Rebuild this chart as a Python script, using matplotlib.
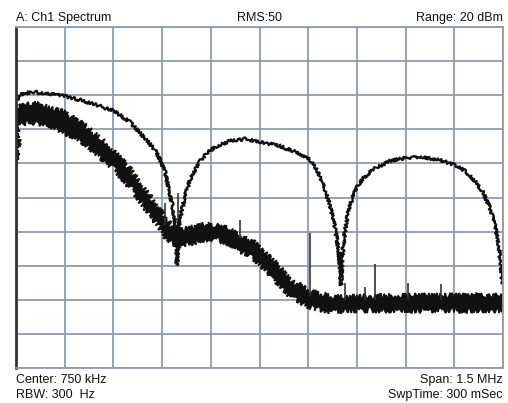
import numpy as np
import matplotlib
matplotlib.use("Agg")
import matplotlib.pyplot as plt

# upper trace (kHz, dBm)
upper_f = [3, 12, 28, 52, 89, 148, 197, 259, 302, 351, 397, 428, 444, 459, 468, 480,
           490, 496, 502, 511, 524, 536, 551, 567, 588, 613, 659, 705, 752, 813, 875,
           906, 930, 952, 967, 979, 989, 995, 1001, 1007, 1013, 1023, 1035, 1050, 1069,
           1106, 1152, 1198, 1244, 1306, 1352, 1383, 1414, 1438, 1460, 1475, 1488, 1497, 1500]
upper_db = [-1.4, 0.1, 0.6, 0.9, 0.6, -0.2, -1.4, -3.2, -4.6, -7.9, -12.6, -16.1, -19.0,
            -22.5, -26.3, -31.6, -37.2, -49.8, -38.1, -33.7, -28.4, -24.9, -21.9, -19.3,
            -17.0, -15.2, -13.4, -12.8, -13.7, -14.9, -17.2, -19.0, -22.5, -27.8, -32.2,
            -37.2, -42.5, -46.9, -55.7, -45.4, -40.1, -34.3, -30.2, -26.9, -24.3, -21.4,
            -19.3, -18.4, -18.1, -19.0, -20.5, -22.2, -25.2, -28.4, -33.1, -38.1, -44.8,
            -54.2, -55.5]

# lower trace envelope (kHz, top dBm, bottom dBm)
lower_f = [0, 3, 9, 28, 59, 105, 148, 197, 259, 302, 351, 397, 444, 474, 505, 536, 567,
           598, 628, 659, 690, 733, 782, 844, 906, 967, 1060, 1183, 1337, 1500]
lower_top = [-3.5, -4.3, -3.8, -2.6, -2.6, -3.8, -5.2, -7.9, -12.6, -16.7, -21.9, -27.8,
             -33.7, -38.1, -39.2, -39.0, -38.4, -37.8, -38.7, -39.5, -41.3, -43.4, -47.8,
             -54.2, -57.7, -59.2, -59.2, -58.9, -58.9, -58.9]
lower_bot = [-21.1, -18.0, -9.6, -7.9, -7.9, -9.0, -10.8, -13.1, -18.1, -21.4, -26.9,
             -32.8, -39.0, -43.1, -43.9, -43.4, -42.5, -41.9, -42.5, -43.6, -45.4, -47.8,
             -52.2, -58.9, -62.1, -63.3, -63.0, -63.0, -63.0, -63.0]

# spurs on the lower trace
spur_f = [459, 499, 690, 906, 1013, 1075, 1106, 1207, 1309]
spur_top = [-31.6, -28.7, -36.6, -40.4, -55.1, -56.3, -49.5, -55.1, -55.4]
spur_base = [-38.0, -40.0, -42.0, -59.0, -60.0, -60.0, -60.0, -60.0, -60.0]

grid_col = "#909cac"

fig = plt.figure(figsize=(5.08, 4.03), dpi=100)
ax = fig.add_axes([16 / 508, 35 / 403, 487 / 508, 341 / 403])
ax.set_xlim(0, 1500)
ax.set_ylim(-80, 20)
ax.set_xticks(np.linspace(0, 1500, 11))
ax.set_yticks(np.linspace(-80, 20, 11))
ax.grid(True, color=grid_col, lw=1.3)
ax.tick_params(length=0, labelbottom=False, labelleft=False)
for s in ax.spines.values():
    s.set_color(grid_col)
    s.set_linewidth(1.3)
ax.spines["left"].set_color("#333333")
ax.spines["left"].set_linewidth(2)
ax.set_axisbelow(True)

band = ax.fill(np.concatenate([lower_f, lower_f[::-1]]),
               np.concatenate([lower_top, lower_bot[::-1]]),
               color="#111111", lw=1.2)[0]
band.set_sketch_params(scale=3, length=3, randomness=3)

ax.vlines(spur_f, spur_base, spur_top, color="#333333", lw=1.2)

line, = ax.plot(upper_f, upper_db, color="#111111", lw=1.6)
line.set_sketch_params(scale=1.5, length=2, randomness=3)

font = dict(family="Liberation Sans", fontsize=9, color="#111111")
fig.text(16 / 508, 1 - 18 / 403, "A: Ch1 Spectrum", ha="left", va="center", **font)
fig.text(260 / 508, 1 - 18 / 403, "RMS:50", ha="center", va="center", **font)
fig.text(503 / 508, 1 - 18 / 403, "Range: 20 dBm", ha="right", va="center", **font)
fig.text(16 / 508, 1 - 380 / 403, "Center: 750 kHz", ha="left", va="center", **font)
fig.text(16 / 508, 1 - 395 / 403, "RBW: 300  Hz", ha="left", va="center", **font)
fig.text(503 / 508, 1 - 380 / 403, "Span: 1.5 MHz", ha="right", va="center", **font)
fig.text(503 / 508, 1 - 395 / 403, "SwpTime: 300 mSec", ha="right", va="center", **font)

fig.savefig("out.png", dpi=100)
